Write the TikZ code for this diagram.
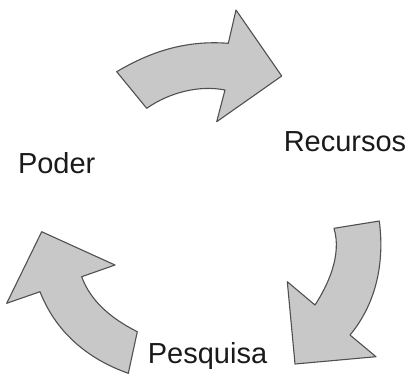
\documentclass[tikz,border=0pt]{standalone}
\usepackage{fontspec}
\setmainfont{Liberation Sans}
\definecolor{arrfill}{HTML}{C8C8C8}
\definecolor{arrline}{HTML}{505050}
\definecolor{txt}{HTML}{1A1A1A}
\tikzset{
  cyclearrow/.style={fill=arrfill, draw=arrline, line width=1.1pt, line join=round},
  lbl/.style={anchor=base, inner sep=0pt, text=txt, font=\fontsize{29}{29}\selectfont}
}
\begin{document}
\begin{tikzpicture}[x=1pt,y=-1pt]
\useasboundingbox (0,0) rectangle (414,376);
% top arrow
\draw[cyclearrow] (116.7,71.7) .. controls (150,52) and (185,40) .. (228.3,43.3)
  -- (236,10) -- (281.7,76) -- (216.7,121.7) -- (225,90)
  .. controls (200,85) and (170,92) .. (146.7,108.3) -- cycle;
% right arrow
\draw[cyclearrow] (334,228.3) -- (379.3,221) .. controls (385,265) and (375,305) .. (350,335)
  -- (376,356.7) -- (295,364) -- (287.3,281.7) -- (315,305)
  .. controls (328,285) and (342,255) .. cycle;
% left arrow
\draw[cyclearrow] (128.3,373.3) -- (137.3,331.7) .. controls (110,318) and (90,300) .. (81.7,276.7)
  -- (115,265) -- (41.7,231.7) -- (6.7,303.3) -- (40,291.7)
  .. controls (55,330) and (85,358) .. cycle;
\node[lbl] (poder) at (56.7,173.3) {Poder};
\node[lbl] (recursos) at (345,151.7) {Recursos};
\node[lbl] (pesquisa) at (207.5,363.3) {Pesquisa};
\end{tikzpicture}
\end{document}
